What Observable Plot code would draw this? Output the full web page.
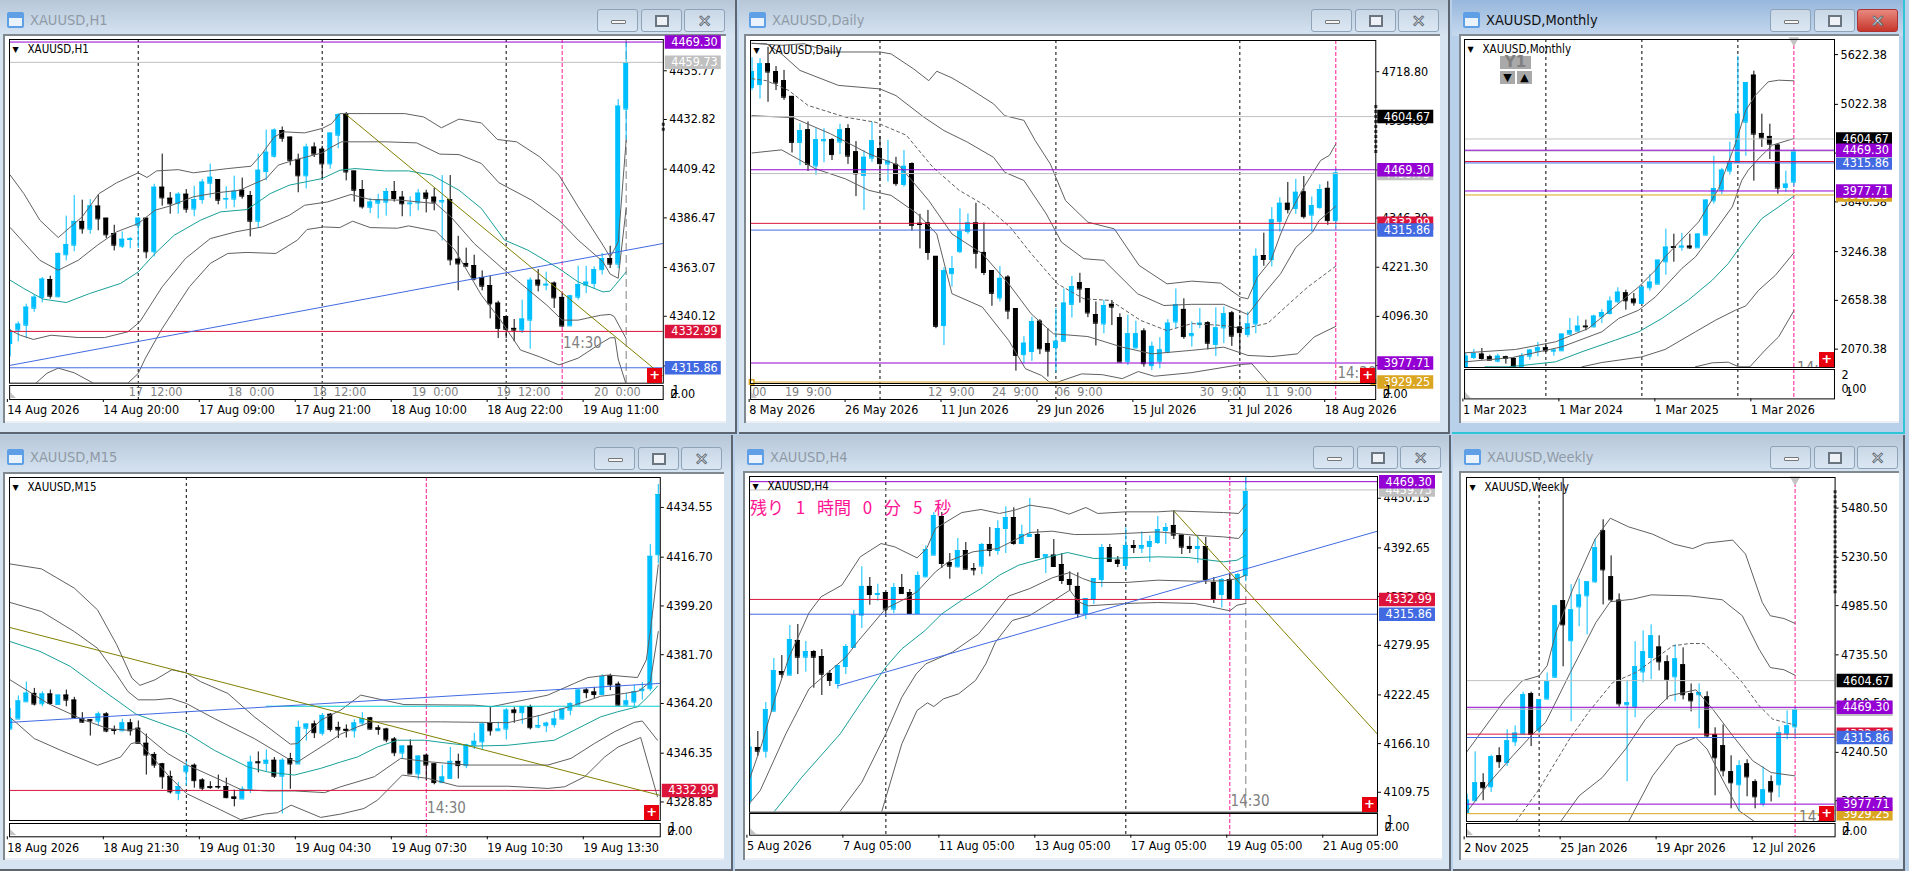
<!DOCTYPE html>
<html><head><meta charset="utf-8">
<script src="https://cdn.jsdelivr.net/npm/d3@7"></script>
<script src="https://cdn.jsdelivr.net/npm/@observablehq/plot@0.6"></script>
<style>
html,body{margin:0;padding:0;background:#b8d0ea;overflow:hidden;width:1909px;height:871px}
#root{position:absolute;left:0;top:0;width:1909px;height:871px;overflow:hidden}
.abs{position:absolute}
.win{position:absolute;background:#d6e4f2;box-sizing:border-box;border-right:2px solid #5d6670;border-bottom:2px solid #5d6670}
.win.active{border-color:#2fc4d6;background:#b8d0ea}
.bar{position:absolute;left:0;right:0;top:0;height:36px;background:linear-gradient(#b7c7d8,#d6e4f2)}
.win.active .bar{background:linear-gradient(#97b7dc,#c6d9ee)}
.ttl{position:absolute;font:14.5px "DejaVu Sans Condensed","DejaVu Sans",sans-serif;color:#8f9aa6;white-space:nowrap}
.win.active .ttl{color:#111}
.inner{position:absolute;background:#fff;box-sizing:border-box;border-left:2px solid #808890;border-top:2px solid #808890;box-shadow:inset 0 -2px 0 #eceff3}
.btn{position:absolute;width:41px;height:23px;box-sizing:border-box;border:1px solid #8ea2b8;border-radius:3px;background:linear-gradient(#c9d7e6,#dbe7f3);text-align:center;color:#fff}
.btn.red{background:linear-gradient(#e8897f,#c7362b);border-color:#a33}
.ico{position:absolute;width:17px;height:16px;box-sizing:border-box;border:2px solid #5f9fe6;border-radius:2px;background:linear-gradient(#5f9fe6 35%,#eaf3fc 35%)}
.plus{position:absolute;width:15px;height:15px;background:#e8000f;color:#fff;font:bold 13px/14px "DejaVu Sans";text-align:center}
.cnt{position:absolute;font:17px "Noto Sans CJK JP";color:#ff1493;white-space:nowrap;word-spacing:8px}
.y1{position:absolute;background:#a9a9a9;color:#808080;font:bold 15px/13px "DejaVu Sans";text-align:center}
.corner{position:absolute;width:0;height:0;border-left:6px solid #c4c4c4;border-top:6px solid transparent}
</style></head><body><div id="root"></div>
<script>
// ---------- shared prices ----------
const upColor="#00BFFF",downColor="#000000",bandColor="#5f5f5f",tealColor="#17a098";
const purple="#9400D3",silver="#C0C0C0",crimson="#DC143C",royal="#4169E1",gold="#DAA520",ink="#000000",olive="#808000",cyanLine="#00CED1",pink="#FF1493";

// ---------- H1 : [open,high,low,close] ----------
const h1Bars=[[4327.3,4333.9,4321,4332.5],[4333.6,4337.5,4328.1,4336.4],[4335.9,4345.8,4329.6,4344.4],[4343.9,4350.1,4342,4349.1],[4349,4358.4,4346.4,4357.6],[4357.4,4359,4348.2,4349.6],[4349.3,4370,4348.8,4369.7],[4369.1,4387.3,4366.2,4373.9],[4373.6,4397,4370.5,4384.8],[4384.8,4394.8,4378.8,4381.3],[4381.1,4395.1,4378.8,4392.1],[4392,4397.2,4380.4,4386],[4386.3,4386.3,4376.7,4378.5],[4379.1,4383,4370.9,4373.6],[4373.1,4379.9,4372,4376.4],[4376.3,4377.2,4371.9,4376.6],[4383,4386.3,4372,4386.3],[4386.3,4386.3,4367.2,4370.5],[4370.5,4402.3,4368.1,4400.9],[4400.9,4416.5,4392,4395.9],[4395.7,4398.4,4388.2,4393.1],[4393.2,4398.3,4388.2,4397.6],[4397.6,4399.8,4388.7,4390.6],[4390.6,4401.4,4387,4395.1],[4395.1,4404.5,4392.9,4403.3],[4402.8,4411.8,4395.7,4405.6],[4404.5,4404.5,4392.6,4394.8],[4395.3,4401.1,4390.6,4395.6],[4395.3,4406.1,4391.3,4399],[4399.5,4405.2,4395.3,4396.7],[4397,4398.9,4377.5,4384.9],[4384.9,4416.5,4381.6,4408.9],[4408.3,4427.8,4403.9,4417.4],[4415.5,4428.4,4414.6,4427.8],[4427.6,4429.3,4422.1,4424],[4424.5,4424.5,4411,4413.6],[4414,4416.5,4398.3,4406.3],[4406.3,4421.2,4400.1,4419.8],[4419.8,4421.8,4414.9,4416.5],[4418.8,4420.2,4405,4411.9],[4411.9,4426.4,4409.4,4426.4],[4425.4,4435.5,4419,4435.1],[4435.1,4436.1,4403.9,4408.1],[4408.5,4408.5,4393.9,4399.5],[4399.8,4404.1,4390.6,4391.7],[4391.5,4395.7,4388.5,4393.9],[4393.4,4397.6,4386,4395.1],[4393.9,4400.3,4387.3,4398.9],[4398.9,4403.6,4393.9,4395.6],[4396.2,4398.9,4387,4393.1],[4393.1,4396.4,4387,4393.4],[4393.5,4399.8,4389.8,4398.1],[4398.1,4399.5,4388.8,4395.7],[4396.2,4400.3,4389.8,4393.9],[4394,4406.4,4375.6,4394.6],[4395.1,4406.4,4363.9,4366.7],[4367,4377.8,4352.1,4364.8],[4365,4372.2,4363.4,4363.7],[4364,4368.9,4356.8,4357.7],[4358.4,4361.5,4352.1,4354.3],[4354.6,4359,4338.9,4346],[4346.3,4347.2,4329.6,4334.4],[4340,4340,4329.6,4334],[4334.4,4338.6,4328.1,4333.6],[4333.6,4347.7,4332,4338.8],[4338.3,4358.2,4324.6,4357.1],[4357.1,4362.1,4351.6,4354.8],[4354.8,4360.9,4352.1,4355.2],[4355.7,4356.3,4343.8,4348.8],[4349,4350.8,4335.1,4335.5],[4335.6,4350,4335.5,4349.7],[4349.1,4363.7,4347.7,4355.1],[4354.8,4363.7,4350.8,4356.2],[4355.5,4363.4,4353,4362.1],[4362.1,4369.7,4359.5,4367.3],[4367.3,4373.1,4362.6,4364.7],[4364.7,4442.2,4362.5,4439.1],[4437.7,4469.1,4423.1,4459.5]];
const h1Upper=[[0,4406.6],[1.7,4397.9],[3.7,4385.4],[6,4377.2],[9,4387],[11.1,4397.9],[13.3,4403],[16,4407.7],[17.1,4405.5],[18.3,4408.6],[21,4409.2],[22.9,4407.7],[24.8,4408.6],[27.2,4409.7],[30.1,4410.8],[31.5,4416.8],[33,4424.6],[34.2,4427],[36.8,4426.5],[39,4428.6],[40.2,4430.9],[41.2,4435.6],[44.5,4435.6],[49.3,4435.6],[51.7,4434],[53.9,4428.9],[56.1,4433],[58.9,4431.2],[60.9,4423.4],[63.3,4422.3],[66.2,4415.2],[68.6,4406.6],[71,4391.7],[74.1,4373.6],[75,4368],[76,4375],[77,4423]];
const h1Plus1=[[0,4381.9],[3.7,4366.5],[6,4361.8],[8.5,4366.5],[10.9,4373.6],[13.3,4379.9],[16,4383.8],[18.1,4390.1],[20,4392.1],[22.9,4396.4],[25.8,4398.3],[28.7,4399.5],[30.1,4401.9],[32,4405],[33.5,4411.3],[35.4,4413.6],[39,4417.1],[40.2,4419.9],[41.4,4422.3],[46.9,4422.3],[50.8,4421.8],[53.7,4416.5],[56.1,4416.3],[58.9,4412.1],[61.1,4403],[65.2,4394.8],[68.6,4385.4],[71,4376],[74.1,4365.8],[75,4360],[76,4358],[77,4391]];
const h1Mid=[[0,4357.1],[1.7,4353.2],[4.1,4348.2],[7,4346.6],[9.9,4350.8],[13.8,4355.6],[16,4361],[18.1,4369.7],[20.5,4378.3],[23.8,4385.4],[26.3,4389.3],[29.6,4390.4],[32.5,4397.9],[34.9,4401.9],[39,4405],[41.2,4408.9],[43.1,4409.7],[46.9,4408.6],[49.8,4408.6],[52.7,4406.6],[56.1,4399.5],[58.9,4390.9],[61.8,4376],[64.7,4371.3],[68.6,4362.6],[71,4356.3],[74.1,4351.6],[75,4352],[77,4361]];
const h1Minus1=[[0,4333.6],[1.25,4331.2],[2.9,4329.2],[5.1,4331.2],[8.5,4330.1],[11.8,4330.1],[14.7,4332.8],[16.2,4337.5],[19,4354],[21.9,4367.3],[25,4376.7],[28.2,4379.9],[31.5,4382.2],[34.9,4387.7],[36.8,4392.4],[39.7,4394],[42.6,4397.5],[45,4395.1],[48.8,4394.8],[53.2,4393.2],[55.1,4386.9],[58,4374.4],[61.3,4363.4],[63.8,4355.6],[67.1,4345.3],[69,4338.3],[71,4338.3],[73.8,4340.6],[75,4341],[75.5,4340],[77,4329.6]];
const h1Lower=[[0,4300],[3.2,4308.6],[4.6,4313.3],[6,4315.7],[8,4313.5],[10.4,4308.6],[14.7,4308.6],[16,4313.2],[16.9,4320.4],[19,4334.4],[22.4,4354],[25,4365],[27.2,4369.7],[29.6,4370.2],[33.2,4369.7],[35.9,4376],[37.1,4381],[39.2,4382.2],[41.2,4381.9],[42.8,4384.9],[45,4381.9],[48.4,4381.6],[49.8,4382.7],[53.2,4380.2],[55.6,4371.3],[58.9,4350.1],[61.3,4338.3],[63.8,4324.2],[66.2,4321],[68.6,4317.2],[71,4320.4],[73.8,4327.3],[75,4330],[75.6,4330],[76,4320],[77,4308]];
const h1Ticks=[4455.77,4432.82,4409.42,4386.47,4363.07,4340.12,4316.72];
const h1Blue=[[0,4317],[81.6,4374.4]], h1Olive=[[42,4435.1],[81.6,4312]];
const h1Dates=["14 Aug 2026","14 Aug 20:00","17 Aug 09:00","17 Aug 21:00","18 Aug 10:00","18 Aug 22:00","19 Aug 11:00"];
const h1Seps=[[14.8,"17  12:00"],[27.2,"18  0:00"],[37.8,"18  12:00"],[50.2,"19  0:00"],[60.8,"19  12:00"],[73,"20  0:00"]];

// ---------- Daily ----------
const dBars=[[4679,4754,4671,4719],[4686,4752,4649,4739],[4739,4781,4641,4718],[4719,4732,4671,4690],[4696,4722,4646,4654],[4656,4656,4512,4539],[4539,4586,4480,4569],[4571,4591,4465,4483],[4479,4574,4455,4546],[4543,4574,4487,4546],[4546,4549,4493,4508],[4540,4585,4508,4571],[4574,4584,4483,4504],[4515,4541,4401,4459],[4455,4518,4366,4501],[4499,4590,4488,4543],[4523,4554,4440,4485],[4484,4544,4438,4491],[4483,4501,4427,4434],[4432,4518,4425,4478],[4485,4487,4313,4328],[4333,4356,4268,4330],[4334,4366,4239,4259],[4249,4249,4065,4071],[4073,4220,4022,4213],[4205,4249,4171,4218],[4261,4370,4256,4312],[4312,4357,4305,4334],[4334,4384,4217,4257],[4259,4334,4200,4208],[4213,4213,4122,4155],[4143,4223,4133,4193],[4196,4200,4088,4110],[4116,4116,3957,3997],[3999,4045,3976,4028],[4007,4094,3982,4083],[4084,4088,3999,4014],[4027,4065,3942,4008],[4017,4116,3954,4033],[4033,4166,4033,4130],[4127,4198,4092,4172],[4182,4206,4130,4166],[4167,4167,4093,4105],[4101,4133,4021,4079],[4077,4137,4052,4124],[4127,4137,4073,4120],[4093,4103,3980,3980],[3982,4099,3971,4052],[4016,4084,4014,4052],[4059,4065,3967,3976],[3971,4031,3959,4020],[3982,4042,3963,4011],[4005,4088,4001,4079],[4082,4166,4065,4126],[4114,4141,4038,4045],[4047,4082,4018,4052],[4076,4116,4065,4079],[4080,4083,4011,4028],[4025,4118,3994,4067],[4067,4120,4027,4103],[4105,4109,4020,4046],[4069,4099,3997,4055],[4050,4107,4042,4077],[4077,4268,4052,4249],[4251,4308,4224,4241],[4241,4373,4222,4342],[4338,4398,4311,4384],[4384,4437,4357,4368],[4371,4445,4356,4412],[4413,4452,4344,4350],[4354,4400,4311,4378],[4373,4431,4369,4419],[4422,4439,4328,4340],[4340,4472,4319,4461]];
const dUpper=[[0,4791],[3.7,4786],[6.5,4790],[9.8,4769],[16,4769],[17.4,4764],[20.2,4726],[22.1,4696],[23.1,4720],[25,4703],[26.9,4680],[30.2,4637],[31.6,4607],[34,4595],[35.4,4544],[37.3,4484],[39.2,4391],[42,4336],[45.3,4319],[48.4,4226],[51.9,4179],[55,4186],[58.6,4181],[61.1,4145],[62,4141],[63.2,4196],[64.9,4239],[66.1,4306],[67,4349],[69,4425],[71.1,4493],[72.2,4506],[73,4535]];
const dPlus1=[[0,4791],[1.8,4790],[3.7,4764],[6,4722],[10.8,4684],[16,4675],[18,4658],[21.5,4603],[24,4569],[26.9,4540],[30.2,4501],[31.6,4463],[34,4442],[36.8,4357],[38.7,4285],[41.5,4243],[44,4239],[48.2,4154],[51.5,4124],[55,4127],[59,4127],[62,4101],[64,4154],[66.1,4205],[68,4272],[70.1,4311],[70.9,4340],[72.4,4366],[73,4377]];
const dMid=[[0,4701],[1.8,4696],[4.6,4671],[7,4633],[11.7,4603],[15.5,4590],[19.3,4557],[22.6,4476],[25.9,4417],[29.2,4378],[32.3,4323],[34.9,4256],[38.2,4179],[41.5,4141],[44.8,4137],[48.6,4086],[51.9,4060],[55,4078],[59,4073],[61.5,4065],[64.5,4079],[67.4,4133],[69.5,4171],[73,4224]];
const dMinus1=[[0,4607],[5.1,4602],[9.8,4561],[14.6,4510],[18.4,4480],[22.1,4391],[25,4306],[28.8,4256],[32.1,4179],[34.9,4103],[37.7,4052],[42,4045],[46.3,4018],[50,4001],[55,4010],[59,4018],[62,3997],[65,3994],[68.2,4001],[70.3,4044],[73,4071]];
const dLower=[[0,4512],[3.7,4520],[7.9,4472],[11.7,4446],[14.6,4417],[17.4,4404],[20.7,4357],[23.1,4306],[25,4154],[28.8,4120],[32.1,4035],[34.2,3963],[36.2,3946],[37.2,3929],[38.2,3929],[41.2,3950],[43.8,3948],[46.3,3938],[48.3,3956],[50.3,3944],[54.9,3953],[61.2,3974],[62.5,3976],[64.5,3929],[65.5,3915]];
const dTicks=[4718.80,4593.80,4468.80,4346.30,4221.30,4096.30,3971.30];
const dDates=["8 May 2026","26 May 2026","11 Jun 2026","29 Jun 2026","15 Jul 2026","31 Jul 2026","18 Aug 2026"];
const dSeps=[[0,"00"],[4.1,"19  9:00"],[22,"12  9:00"],[30,"24  9:00"],[38,"06  9:00"],[56,"30  9:00"],[64.2,"11  9:00"]];

// ---------- Monthly ----------
const mBars=[[1849,2018,1849,1985],[1969,2066,1945,2018],[2010,2078,1937,1957],[1977,1997,1937,1937],[1925,2010,1905,1985],[1977,1985,1889,1957],[1957,1969,1849,1849],[1849,2018,1849,1985],[1985,2066,1937,2058],[2046,2150,1977,2086],[2086,2138,2030,2050],[2046,2078,1985,2058],[2050,2251,2050,2251],[2251,2440,2239,2291],[2287,2468,2279,2347],[2347,2420,2291,2339],[2339,2480,2327,2468],[2460,2548,2379,2512],[2500,2701,2480,2649],[2641,2810,2621,2757],[2749,2781,2540,2653],[2673,2741,2588,2629],[2621,2818,2621,2818],[2810,2970,2769,2878],[2854,3143,2854,3143],[3123,3517,2962,3300],[3304,3457,3119,3296],[3300,3465,3252,3312],[3312,3457,3272,3292],[3292,3465,3292,3457],[3445,3875,3437,3867],[3859,4397,3819,4007],[3987,4249,3935,4229],[4217,4566,4168,4317],[4321,5603,4321,4904],[4807,5286,4397,5286],[5374,5423,4096,4663],[4671,4904,4502,4615],[4635,4783,4357,4542],[4530,4550,3939,4012],[4020,4217,3963,4060],[4084,4478,4028,4458]];
const mUpper=[[-0.1,2026],[6.2,2066],[11.2,2158],[15.3,2319],[21.6,2821],[23.7,3023],[24.9,3183],[29.1,3605],[31.6,4007],[33.7,4550],[35,4952],[36.2,5133],[37.8,5294],[39.1,5314],[41,5306]];
const mPlus1=[[-0.1,1917],[5.8,1969],[12,2098],[17,2279],[19.1,2440],[21.6,2540],[23.7,2701],[27,3043],[28.7,3183],[31.2,3505],[33.3,3786],[34.5,4108],[35.3,4229],[36.6,4369],[38.3,4530],[41,4610]];
const mMid=[[2.4,1857],[5.3,1857],[7,1873],[11.2,1917],[14.5,2038],[18.7,2179],[21.6,2279],[24.5,2440],[27.8,2661],[30.8,2902],[32.8,3103],[34.9,3384],[37,3646],[39.1,3786],[41,3915]];
const mMinus1=[[14.5,1857],[17,1909],[22,1977],[24.9,2066],[28.7,2279],[31.2,2419],[33.7,2540],[35,2592],[36.6,2781],[38.7,2962],[41,3232]];
const mLower=[[28.7,1857],[30.8,1905],[32.8,1913],[34.1,1857],[35.5,1857],[37.4,2058],[39.1,2219],[41,2532]];
const mTicks=[5622.38,5022.38,4434.38,3846.38,3246.38,2658.38,2070.38];
const mDates=["1 Mar 2023","1 Mar 2024","1 Mar 2025","1 Mar 2026"];

// ---------- M15 ----------
const qBars=[[4355,4362.4,4355,4358.5],[4358.6,4366.9,4358.6,4365.1],[4364.8,4371.9,4364.8,4367.9],[4367.8,4369.6,4363.3,4364],[4364.1,4368.4,4363,4367.6],[4367.6,4369,4363.6,4364.2],[4363.8,4367.2,4363.8,4367.2],[4367.2,4369,4363,4365.4],[4365.4,4366.4,4358.9,4359.2],[4358.7,4360.9,4357.1,4357.5],[4358.3,4358.3,4352.5,4357.9],[4357.9,4361.1,4356.1,4360.4],[4360.4,4360.9,4353.7,4354.3],[4354.8,4356.1,4352.9,4354.5],[4354.4,4358.5,4354.3,4357.2],[4357.2,4358.5,4352.5,4354.4],[4355.3,4357.9,4349.9,4349.9],[4349.9,4353.2,4338.5,4345.7],[4345.9,4346.6,4340.9,4342.1],[4342.5,4342.7,4333.4,4337.9],[4338,4339.9,4331.7,4332.5],[4332,4335.8,4329.3,4334.4],[4339.7,4343.3,4334.6,4341.7],[4342,4342.5,4333.8,4336.5],[4336.7,4337.2,4332.9,4333.8],[4334.3,4336.1,4333.4,4334],[4334.4,4338.5,4333.4,4334.2],[4334.4,4337.4,4330,4330.4],[4330.6,4333.1,4327.1,4330.1],[4329.9,4334.3,4329.9,4333.4],[4333.4,4345.3,4331.9,4343.1],[4343.2,4346.8,4339.3,4342.9],[4342.7,4347.5,4339.7,4343.8],[4343.8,4344.8,4337.3,4338.1],[4338.1,4344.4,4324.5,4343.8],[4344.4,4346.3,4333.4,4342.5],[4342.5,4357.9,4342.5,4355.6],[4355.3,4356.8,4350.7,4356.8],[4356.8,4357.9,4351.6,4353.7],[4353.5,4360.6,4352.5,4359.9],[4360.3,4360.6,4353.9,4354.9],[4355.6,4357.5,4351.6,4354.7],[4354.9,4356.5,4351.8,4354.5],[4354.4,4358.3,4351.8,4357.2],[4357.2,4360.9,4355.9,4358.7],[4359,4359.2,4354.7,4355],[4355.4,4356.3,4352.8,4354.9],[4355,4355.3,4350.1,4351.1],[4351.4,4352,4345.1,4346.5],[4346.4,4348.9,4344.1,4348.9],[4348.9,4351.1,4338.9,4338.9],[4338.9,4345.3,4336.7,4345.3],[4345.6,4345.9,4336.5,4342.1],[4342.5,4342.5,4335,4335.8],[4335.8,4342,4335.5,4337.8],[4337.3,4348.4,4337.1,4343.4],[4343.4,4346,4337.1,4341.9],[4341.9,4349.5,4340.8,4349.3],[4349.2,4353.5,4347.7,4350.6],[4350.4,4357.1,4347.7,4356.8],[4357.1,4362.7,4352.5,4354.4],[4354.4,4357.5,4354.4,4355],[4355,4362.4,4351.1,4361.8],[4361.8,4362.7,4357.1,4360.9],[4360.9,4363,4356.7,4363],[4363,4363.6,4354.7,4355.5],[4355.7,4359.9,4355.1,4356.3],[4356.2,4357.5,4353.7,4357.1],[4356.6,4361.2,4355.4,4358.6],[4358.6,4362.2,4358.2,4362.2],[4361.8,4364.5,4359.8,4364.1],[4363.6,4369.3,4363.6,4369],[4369,4369.5,4365.9,4368.1],[4368.3,4370,4365.9,4367.4],[4367.4,4374.5,4367.4,4373.8],[4374.1,4374.7,4368.8,4370.9],[4371.1,4371.9,4363.4,4363.6],[4363.6,4367.8,4363.4,4365.1],[4364.7,4370.8,4363,4368.4],[4368.8,4371.7,4365.4,4369.3],[4369.5,4421.2,4368.5,4417],[4417.6,4442.8,4414.3,4439.2]];
const qUpper=[[-0.1,4414.3],[3.9,4412.5],[8,4405.6],[10.9,4397.8],[13.3,4385.3],[15.2,4373.3],[16.2,4370.7],[18.1,4372.7],[20.2,4376.3],[22,4375.2],[23.8,4372],[27.2,4367.8],[30.5,4359.4],[35,4349.6],[35.9,4349.8],[38.8,4358.2],[41.3,4361.8],[43.8,4367.2],[49.2,4363.8],[58,4363.6],[60.1,4363],[67.2,4367.2],[70.5,4371.4],[72.2,4373.5],[74.7,4374.4],[78.4,4373.5],[79.5,4379.8],[80,4390],[81,4414]];
const qPlus1=[[-0.1,4400.5],[3.9,4397.2],[8,4390],[10.9,4384],[13.3,4374.5],[14.7,4368.5],[16,4365.5],[18.1,4365.5],[20.1,4366],[22,4364.2],[25.5,4358.8],[30.5,4351.6],[34.7,4344.4],[35.9,4343.2],[39.5,4349.8],[41.3,4353.2],[43.4,4355.8],[45.1,4357.6],[53.8,4357.6],[62.2,4357.3],[66.3,4360],[70.5,4363.6],[73.8,4366.8],[76.8,4367.8],[78.6,4368.7],[80,4372],[81,4390]];
const qMid=[[-0.1,4386.5],[3.7,4382.9],[7.5,4377.5],[10.9,4370.3],[15.7,4360.4],[21.8,4354],[25.5,4347.4],[29.7,4341.4],[32.2,4339.6],[35.5,4338.5],[38.8,4340.9],[41.3,4343.2],[43.4,4345],[45.9,4348.6],[48.4,4351],[51.8,4351],[55.1,4349.8],[58,4348.9],[62.2,4349.2],[68,4351],[70.5,4354.6],[73.8,4359.4],[75.9,4361.2],[78.4,4363],[79.7,4366.6],[80.9,4370.4]];
const qMinus1=[[-0.1,4372.8],[4.7,4364.2],[9.25,4358.2],[12.2,4355.2],[14.7,4354.6],[15.9,4355.2],[19.7,4346.2],[22.2,4342],[26.3,4336.7],[28.8,4333.3],[32.2,4332.8],[35.5,4332.8],[39.3,4332.2],[41.3,4334.3],[45.5,4337.9],[48.8,4344.5],[52.2,4343.3],[57.2,4342.1],[67.2,4342.1],[70.1,4344.5],[73,4349.8],[75.5,4354],[78,4357.4],[79,4357.9],[80.9,4351]];
const qLower=[[-0.1,4359.4],[3,4351.6],[6.3,4347.4],[10.9,4342],[13.8,4345],[15.1,4349.8],[16.1,4350.4],[19.7,4338.5],[22,4331.9],[25.5,4327.1],[28.8,4322.5],[31.8,4324.5],[33.4,4325],[35.1,4327.7],[38.8,4323.3],[41.3,4324.5],[44.2,4326.5],[45.9,4329.5],[49,4338.5],[52.2,4337.3],[55.9,4334.5],[62.2,4334.5],[67.2,4333.7],[69.3,4334.3],[71.8,4337.9],[74.3,4345],[76,4348.6],[78.8,4352],[80.9,4330.7]];
const qTicks=[4434.55,4416.70,4399.20,4381.70,4364.20,4346.35,4328.85];
const qBlue=[[-0.1,4357.4],[81.25,4371.4]],qOlive=[[-0.1,4391.5],[81.25,4331.2]],qCyan=[[32,4363.2],[81.25,4363.2]];
const qDates=["18 Aug 2026","18 Aug 21:30","19 Aug 01:30","19 Aug 04:30","19 Aug 07:30","19 Aug 10:30","19 Aug 13:30"];

// ---------- H4 ----------
const fBars=[[4100.2,4172.7,4094.8,4161.9],[4161.5,4180.1,4151.5,4157.3],[4157.3,4213.6,4149.2,4205.5],[4203.6,4264.6,4203.6,4250.7],[4249.5,4268,4241.8,4246.4],[4245.3,4302.8,4245.3,4286.6],[4285.4,4304,4246,4266.1],[4266.1,4284.3,4248.8,4272.7],[4272.7,4273.8,4230.2,4266.1],[4266.9,4275,4221.8,4246.4],[4247.2,4250.7,4232.2,4239.1],[4235.7,4256.5,4229.1,4256.5],[4255.3,4280.8,4246,4278.5],[4277.3,4320.2,4277.3,4314.4],[4314.8,4370.7,4299.3,4348],[4348,4358.4,4326.3,4338.7],[4338.7,4350.6,4330.9,4339.8],[4341,4341,4314.8,4321.7],[4321.7,4351.4,4316.7,4346.8],[4346.8,4361.8,4339.8,4339.8],[4341,4344.5,4315.5,4316.7],[4316.7,4364.9,4316.7,4360.7],[4359.1,4395,4358.4,4390.8],[4384.2,4433.6,4384.2,4430.1],[4429,4433.6,4368.8,4374.6],[4375.7,4386.1,4356.4,4371.5],[4370.7,4403.5,4369.6,4389.6],[4389.6,4398.9,4367.6,4368],[4368.8,4374.6,4360.3,4367.2],[4371.5,4397.7,4361.8,4396.6],[4396.6,4416.2,4382.3,4389.6],[4389.6,4424,4384.2,4415.1],[4415.1,4440.2,4386.1,4427.8],[4427.8,4439,4395.8,4397.7],[4397.7,4418.9,4396.6,4408.1],[4405.8,4449.8,4405.4,4408.1],[4408.1,4413.9,4380.4,4381.5],[4381.9,4384.6,4363,4384.6],[4384.2,4402.3,4369.9,4371.1],[4373.4,4386.1,4350.3,4354.9],[4356,4364.9,4342.6,4350.3],[4348,4363.8,4310.9,4316.7],[4316.7,4334.1,4309.7,4334.1],[4332.9,4357.2,4327.1,4357.2],[4356,4396.6,4346.8,4393.1],[4393.1,4396.6,4375.7,4376.9],[4378.4,4382.7,4369.9,4374.6],[4372.3,4415.9,4366.5,4395.4],[4395.4,4401.2,4386.1,4393.1],[4392.3,4411.2,4386.1,4395.4],[4394.3,4406.6,4375.7,4400],[4398.9,4429,4396.6,4413.9],[4412.8,4420.9,4396.6,4416.2],[4418.6,4435.5,4402.3,4407.4],[4407.4,4407.4,4385,4393.5],[4394.3,4405.4,4386.1,4391.9],[4391.9,4406.2,4374.6,4394.3],[4394.3,4404.7,4350.3,4356],[4352.6,4358.4,4328.3,4332.9],[4338.7,4357.2,4323.2,4356],[4356,4361.8,4334.1,4334.1],[4334.1,4363,4334.1,4361.8],[4360.7,4474.9,4353.4,4457.9]];
const fUpper=[[-0.1,4123.4],[1.5,4165.8],[3.2,4219.8],[4.9,4266.1],[7.4,4317.5],[8.9,4336],[11.5,4349.5],[13.8,4382.3],[16.4,4397.7],[18.1,4393.9],[20.9,4381.1],[22.1,4391.9],[23.2,4415.1],[26.5,4433.6],[28.9,4437.1],[31.2,4432.5],[33.1,4436.3],[35,4442.1],[37.8,4438.2],[39.9,4431.7],[42,4439.4],[43.5,4432.5],[47,4434.4],[51,4434.4],[53,4435.5],[59.2,4433.6],[61.1,4432.5],[62,4442.9]];
const fPlus1=[[-0.1,4096.3],[1.3,4111.8],[4.5,4177.4],[7.4,4229.5],[12,4266.1],[13.6,4285.4],[17,4322.5],[19.5,4334.1],[20.9,4341.8],[23.2,4364.9],[25.1,4378.4],[27.9,4388.1],[31,4391.9],[35,4410.5],[37.8,4412],[40.6,4408.1],[44.9,4408.5],[51,4411.2],[55.6,4407.4],[59.2,4405.4],[61.1,4403.5],[62,4414.3]];
const fMid=[[3.1,4087.9],[6.5,4127.2],[11.3,4177.4],[13.8,4212.1],[17,4254.6],[19,4275.8],[21.9,4297],[24,4316.3],[26.5,4332.1],[28.9,4345.6],[31.2,4361.1],[33.6,4372.6],[36.9,4381.1],[39.7,4387.3],[43,4380.4],[47,4381.1],[51,4382.3],[54.8,4381.5],[59.2,4376.5],[60.9,4378.4],[62,4384.2]];
const fMinus1=[[11.3,4087.9],[14,4121.4],[17,4177.4],[19,4219.8],[20.8,4246.8],[22,4258.4],[25.3,4271.9],[28.6,4293.1],[30.3,4312.4],[32.4,4337.1],[35,4345.6],[37.8,4358],[40,4364.2],[41.6,4357.2],[43,4352.6],[47,4352.6],[51,4355.3],[55.6,4354.1],[59.2,4354.5],[61,4357.2],[62,4361.1]];
const fLower=[[16.5,4087.9],[19,4165.8],[20.9,4204.4],[22.2,4213.3],[23,4209],[24.2,4217.9],[26.1,4223.7],[28.2,4239.1],[29.5,4258.4],[30.7,4283.5],[32.8,4308.6],[35,4314.4],[37,4326],[40,4343.7],[41.1,4330.2],[42.3,4325.6],[47,4328.3],[51,4329.4],[55.6,4328.3],[60,4319.8],[60.9,4326.3],[62,4328.3]];
const fTicks=[4450.15,4392.65,4336.30,4279.95,4222.45,4166.10,4109.75];
const fBlue=[[11,4233],[78.46,4412]],fOlive=[[53,4435.5],[78.46,4177]];
const fDates=["5 Aug 2026","7 Aug 05:00","11 Aug 05:00","13 Aug 05:00","17 Aug 05:00","19 Aug 05:00","21 Aug 05:00"];

// ---------- Weekly ----------
const wBars=[[3935,4028,3927,3998],[3995,4243,3995,4086],[4086,4132,3995,4061],[4066,4226,4037,4218],[4223,4264,4159,4193],[4189,4355,4169,4299],[4294,4375,4270,4338],[4333,4546,4333,4533],[4538,4546,4270,4331],[4353,4507,4336,4507],[4511,4643,4507,4599],[4622,4988,4616,4984],[5010,5636,4675,4888],[4807,5091,4396,4964],[4979,5120,4878,5039],[5035,5106,4837,5106],[5106,5323,5099,5279],[5365,5421,4989,5167],[5132,5238,5001,5015],[5013,5045,4470,4487],[4482,4604,4091,4492],[4472,4802,4416,4675],[4649,4857,4594,4751],[4722,4888,4609,4832],[4775,4832,4654,4700],[4700,4731,4507,4609],[4624,4786,4497,4715],[4685,4771,4507,4533],[4538,4588,4446,4502],[4533,4588,4360,4544],[4522,4548,4314,4324],[4331,4365,4020,4213],[4274,4380,4116,4147],[4142,4223,3954,4086],[4076,4198,3939,4172],[4182,4203,4015,4116],[4091,4101,3954,4015],[3979,4167,3964,4050],[4091,4121,3989,4040],[4076,4370,4010,4340],[4335,4451,4304,4375],[4370,4468,4324,4456]];
const wUpper=[[-0.1,4240],[4.8,4511],[6.9,4604],[9,4629],[10,4680],[11.1,4849],[13.2,5069],[16,5323],[17.9,5429],[20.2,5385],[23.2,5348],[25.9,5297],[28.2,5275],[29.8,5302],[33.2,5318],[34.8,5247],[36.9,5001],[37.9,4934],[39.6,4920],[41,4895]];
const wPlus1=[[-0.1,3935],[2.8,4088],[5.7,4223],[8.2,4333],[9.8,4392],[12.9,4646],[16.1,4900],[17.9,5005],[20.7,5018],[23,5040],[27.8,5035],[31.9,5015],[34.4,4934],[36.5,4764],[37.9,4671],[39.6,4660],[41,4632]];
const wMid=[[6.1,3890],[9,4054],[12.8,4308],[15.3,4451],[18.2,4595],[21.1,4646],[25.7,4781],[27.8,4793],[29.6,4793],[31.9,4705],[34.4,4595],[36.5,4477],[38.2,4409],[41,4379]];
const wMinus1=[[11.7,3890],[14,4020],[16.9,4113],[19.8,4257],[22.3,4409],[25.3,4528],[28.6,4558],[30.7,4460],[33.2,4325],[35.7,4198],[38,4138],[41,4121]];
const wLower=[[20.2,3890],[23.2,4122],[26.1,4274],[28.6,4316],[30,4257],[31.9,4105],[34,3944],[35.9,3890]];
const wTicks=[5480.50,5230.50,4985.50,4735.50,4490.50,4240.50,3995.50];
const wDates=["2 Nov 2025","25 Jan 2026","19 Apr 2026","12 Jul 2026"];

// ---------- level lines ----------
const L={top:4469.30,gray:4459.73,res:4604.67,red:4332.99,blue:4315.86,low:3977.71,gold:3929.25};
const levels4=[[L.gray,silver],[L.top,purple],[L.red,crimson],[L.blue,royal]];
const levels7=[[L.res,silver],[L.gray,silver],[L.top,purple],[L.red,crimson],[L.blue,royal],[L.low,purple],[L.gold,gold]];
const tags4=[[L.gray,silver],[L.top,purple],[L.red,crimson],[L.blue,royal]];
const tagsD=[[L.res,ink],[L.gray,silver],[L.top,purple],[L.red,crimson],[L.blue,royal],[L.gold,gold],[L.low,purple]];

// ---------- panel layouts ----------
const ev12=n=>d3.range(n).map(k=>k*12);
const panels=[
 {name:"XAUUSD,H1",l:8.5,r:662.3,t:39.3,b:383,st:385.3,sb:399.3,xd:[-0.09,81.64],yd:[4308.6,4470.5],bars:h1Bars,
  upper:h1Upper,plus1:h1Plus1,mid:h1Mid,minus1:h1Minus1,lower:h1Lower,midC:tealColor,ticks:h1Ticks,levels:levels4,tags:tags4,
  black:[16,39,62],pink:69,gray:77,trends:[[h1Blue,royal],[h1Olive,olive]],clock:[69.1,4327.3],dates:h1Dates,dateTicks:ev12(7),seps:h1Seps,dots:[4431,4427]},
 {name:"XAUUSD,Daily",l:750,r:1375.3,t:40,b:383,st:385.3,sb:399.3,xd:[-0.19,78],yd:[3925.6,4798.2],bars:dBars,
  upper:dUpper,plus1:dPlus1,mid:dMid,minus1:dMinus1,lower:dLower,midC:bandColor,midDash:"3,3",ticks:dTicks,levels:levels7,tags:tagsD,
  black:[16,38,61],pink:73,trends:[],clock:[73.2,3953],dates:dDates,dateTicks:ev12(7),seps:dSeps,dots:[4633,4506],handles:[-0.05,77.7]},
 {name:"XAUUSD,Monthly",l:1464.3,r:1834.3,t:39.3,b:367.3,st:369.3,sb:398.7,xd:[-0.17,46.08],yd:[1848.8,5804.4],bars:mBars,
  upper:mUpper,plus1:mPlus1,mid:mMid,minus1:mMinus1,lower:mLower,midC:tealColor,ticks:mTicks,levels:levels7,
  tags:[[L.res,ink],[L.gold,gold],[L.low,purple],[L.red,crimson],[L.blue,royal],[L.gray,silver],[L.top,purple]],
  black:[10,22,34],pink:41,trends:[],clock:[41.4,1837],dates:mDates,dateTicks:ev12(4),seps:[],tall:true,flag:5795},
 {name:"XAUUSD,M15",l:8.5,r:659.3,t:477.3,b:820.3,st:822.7,sb:836,xd:[-0.1,81.25],yd:[4322.2,4445.3],bars:qBars,
  upper:qUpper,plus1:qPlus1,mid:qMid,minus1:qMinus1,lower:qLower,midC:tealColor,ticks:qTicks,levels:[[L.red,crimson]],tags:[[L.red,crimson]],
  black:[22],pink:52,trends:[[qCyan,cyanLine],[qBlue,royal],[qOlive,olive]],clock:[52.1,4326.5],dates:qDates,dateTicks:ev12(7),seps:[]},
 {name:"XAUUSD,H4",l:749,r:1377,t:476,b:811.7,st:813.3,sb:835,xd:[-0.04,78.46],yd:[4086.7,4475.3],bars:fBars,
  upper:fUpper,plus1:fPlus1,mid:fMid,minus1:fMinus1,lower:fLower,midC:tealColor,ticks:fTicks,levels:levels4,tags:tags4,
  black:[17,47],pink:60,gray:62,trends:[[fBlue,royal],[fOlive,olive]],clock:[60.1,4100],dates:fDates,dateTicks:ev12(7),seps:[]},
 {name:"XAUUSD,Weekly",l:1465.7,r:1834.3,t:476.7,b:820.7,st:822.7,sb:836,xd:[-0.08,46],yd:[3889.6,5635.8],bars:wBars,
  upper:wUpper,plus1:wPlus1,mid:wMid,minus1:wMinus1,lower:wLower,midC:bandColor,midDash:"3,3",ticks:wTicks,levels:levels7,tags:tagsD,
  black:[9],pink:41,trends:[],clock:[41.5,3912],dates:wDates,dateTicks:ev12(4),seps:[],dots:[5568,5044],flag:5625}
];
const pxBar=8,FONT='"DejaVu Sans Condensed","DejaVu Sans",sans-serif';
const root=document.getElementById("root");
function el(cls,css,txt,parent){const d=document.createElement("div");d.className=cls;d.style.cssText=css;if(txt!=null)d.textContent=txt;(parent||root).appendChild(d);return d;}

// ---------- window chrome ----------
const windows=[
 {x:0,y:0,w:737,h:434,t:"XAUUSD,H1",tx:30,il:5,ir:726,it:36,ib:423,btn:725},
 {x:739,y:0,w:711,h:434,t:"XAUUSD,Daily",tx:772,il:746,ir:1440,it:36,ib:423,btn:1439},
 {x:1452,y:0,w:453,h:434,t:"XAUUSD,Monthly",tx:1486,il:1461,ir:1899,it:36,ib:423,btn:1898,active:true},
 {x:0,y:435,w:733,h:436,t:"XAUUSD,M15",tx:30,il:5,ir:723.5,it:473.7,ib:860,btn:722},
 {x:735,y:435,w:716,h:436,t:"XAUUSD,H4",tx:770,il:745,ir:1442,it:473,ib:860,btn:1441},
 {x:1453,y:435,w:452,h:436,t:"XAUUSD,Weekly",tx:1487,il:1461,ir:1899,it:473,ib:860,btn:1898}
];
for(const w of windows){
  const d=el("win"+(w.active?" active":""),`left:${w.x}px;top:${w.y}px;width:${w.w}px;height:${w.h}px`);
  el("bar",`height:${w.it-w.y}px`,null,d);
  const off=w.y?14:12;
  el("ico",`left:${w.tx-23-w.x}px;top:${off}px`,null,d);
  el("ttl",`left:${w.tx-w.x}px;top:${off}px`,w.t,d);
  el("inner",`left:${w.il-w.x-2}px;top:${w.it-w.y-2}px;width:${w.ir-w.il+2}px;height:${w.ib-w.it+2}px`,null,d);
  [0,1,2].forEach(k=>{
    const right=w.btn-w.x-(2-k)*43.5;
    const b=el("btn"+(w.active&&k==2?" red":""),`left:${right-41}px;top:${(w.y?w.it-w.y-27:9)}px`,null,d);
    if(k==0)el("abs","left:13px;top:10px;width:15px;height:4px;background:#f4f6f8;border:1px solid #777;border-radius:1px;box-sizing:border-box",null,b);
    if(k==1)el("abs","left:13px;top:5px;width:14px;height:12px;background:#eef2f6;border:2px solid #6a7580;box-sizing:border-box",null,b);
    if(k==2)el("abs","left:0;top:0;width:100%;font:bold 17px/22px 'DejaVu Sans';color:#f7f9fb;-webkit-text-stroke:.9px #5f6a75","\u2715",b);
  });
}

// ---------- charts ----------
function bandLine(data,stroke,dash){return Plot.line(data,{x:d=>d[0],y:d=>d[1],stroke,strokeWidth:1,strokeDasharray:dash,clip:true});}
function candles(rows,fill,cond,w){
  const data=rows.map((r,i)=>({i,o:r[0],h:r[1],l:r[2],c:r[3]})).filter(cond);
  return [
    Plot.ruleX(data,{x:"i",y1:"l",y2:"h",stroke:fill,strokeWidth:1,clip:true}),
    Plot.rect(data,{x1:d=>d.i-w,x2:d=>d.i+w,y1:"o",y2:"c",fill,clip:true}),
    Plot.ruleY(data,{y:"o",x1:d=>d.i-w,x2:d=>d.i+w,stroke:fill,clip:true}),
    Plot.ruleY(data,{y:"c",x1:d=>d.i-w,x2:d=>d.i+w,stroke:fill,clip:true})
  ];
}
for(const p of panels){
  const cw=p.r-p.l,ch=p.b-p.t,mr=78,xMax=p.xd[1];
  const tagMarks=p.tags.flatMap(([v,c])=>[
    Plot.ruleY([v],{y:d=>d,x1:()=>xMax+2/pxBar,x2:()=>xMax+58/pxBar,stroke:c,strokeWidth:13.5}),
    Plot.text([v],{y:d=>d,x:()=>xMax+8/pxBar,text:d=>d.toFixed(2),fill:"#fff",textAnchor:"start"})
  ]);
  const main=Plot.plot({
    width:cw+mr,height:ch,marginLeft:0,marginRight:mr,marginTop:0,marginBottom:0,
    style:{fontFamily:FONT,fontSize:"12.5px",background:"transparent",overflow:"visible"},
    x:{domain:p.xd,axis:null},y:{domain:p.yd,label:null},
    marks:[
      Plot.axisY({anchor:"right",ticks:p.ticks,tickFormat:d=>d.toFixed(2),tickSize:3,tickPadding:3,label:null,color:"#000"}),
      ...(p.gray!=null?[Plot.ruleX([p.gray],{stroke:"#808080",strokeDasharray:"8,4"})]:[]),
      Plot.ruleX(p.black,{stroke:"#000",strokeDasharray:"3,3"}),
      Plot.ruleX([p.pink],{stroke:pink,strokeDasharray:"4,2"}),
      ...candles(p.bars,upColor,d=>d.c>=d.o,0.31),
      ...candles(p.bars,downColor,d=>d.c<d.o,0.31),
      bandLine(p.upper,bandColor),bandLine(p.plus1,bandColor),
      bandLine(p.mid,p.midC,p.midDash),
      bandLine(p.minus1,bandColor),bandLine(p.lower,bandColor),
      ...p.levels.map(([v,c])=>Plot.ruleY([v],{stroke:c})),
      ...p.trends.map(([pts,c])=>Plot.line(pts,{x:d=>d[0],y:d=>d[1],stroke:c,strokeWidth:1,clip:true})),
      Plot.text(["14:30"],{x:()=>p.clock[0],y:()=>p.clock[1],fill:"#808080",fontSize:15,textAnchor:"start",clip:true}),
      ...(p.handles?p.handles.map(h=>Plot.dot([h],{x:d=>d,y:()=>L.gold,symbol:"square",r:2.5,stroke:gold,fill:"#fff"})):[]),
      ...(p.dots?[Plot.ruleX([xMax],{y1:()=>p.dots[0],y2:()=>p.dots[1],stroke:"#444",strokeWidth:3,strokeDasharray:"3,2"})]:[]),
      ...(p.flag?[Plot.dot([p.pink],{x:d=>d,y:()=>p.flag,symbol:"triangle",rotate:180,r:4,fill:"#c4c4c4"})]:[]),
      ...tagMarks,
      Plot.text([p.name],{frameAnchor:"top-left",dx:18,dy:5,fontSize:11.5,fill:"#000",textAnchor:"start",lineAnchor:"top"}),
      Plot.text(["\u25BC"],{frameAnchor:"top-left",dx:3,dy:7,fontSize:8,fill:"#000",textAnchor:"start",lineAnchor:"top",fontFamily:"DejaVu Sans"}),
      Plot.frame({stroke:"#000",strokeWidth:1})
    ]
  });
  main.style.position="absolute";main.style.left=p.l+"px";main.style.top=p.t+"px";
  root.appendChild(main);

  const sh=p.sb-p.st,mb=26;
  const sub=Plot.plot({
    width:cw+mr,height:sh+mb,marginLeft:0,marginRight:mr,marginTop:0,marginBottom:mb,
    style:{fontFamily:FONT,fontSize:"12.5px",background:"transparent",overflow:"visible"},
    x:{domain:p.xd,label:null},y:{domain:[0,1],axis:null},
    marks:[
      Plot.axisX({anchor:"bottom",ticks:p.dateTicks,tickFormat:d=>p.dates[p.dateTicks.indexOf(d)],tickSize:3,tickPadding:3,textAnchor:"start",dx:-3,label:null,color:"#000"}),
      Plot.ruleX(p.black,{stroke:"#000",strokeDasharray:"3,3"}),
      Plot.ruleX([p.pink],{stroke:pink,strokeDasharray:"4,2"}),
      Plot.text(p.seps,{x:d=>d[0],y:()=>0.5,text:d=>d[1],fill:"#808080",textAnchor:"start"}),
      Plot.text(["0.00"],{x:()=>xMax+7/pxBar,y:()=>p.tall?0.35:0.4,textAnchor:"start",fill:"#000"}),
      Plot.text(["2"],{x:()=>xMax+7/pxBar,y:()=>p.tall?0.8:0.4,textAnchor:"start",fill:"#000"}),
      Plot.text(["1"],{x:()=>xMax+(p.tall?11:9)/pxBar,y:()=>p.tall?0.25:0.7,textAnchor:"start",fill:"#000"}),
      Plot.frame({stroke:"#000",strokeWidth:1})
    ]
  });
  sub.style.position="absolute";sub.style.left=p.l+"px";sub.style.top=p.st+"px";
  root.appendChild(sub);

  el("plus",`left:${p.r-15}px;top:${p.b-15}px`,"+");
  el("corner",`left:${p.l+1}px;top:${p.sb-7}px`);
}
// ---------- overlays ----------
el("cnt","left:750px;top:494px","残り 1 時間 0 分 5 秒");
el("y1","left:1500px;top:56px;width:31px;height:13px","Y1");
el("y1","left:1500px;top:71px;width:15px;height:13px;color:#000;font-size:11px","\u25BC");
el("y1","left:1517px;top:71px;width:15px;height:13px;color:#000;font-size:11px","\u25B2");
</script></body></html>
